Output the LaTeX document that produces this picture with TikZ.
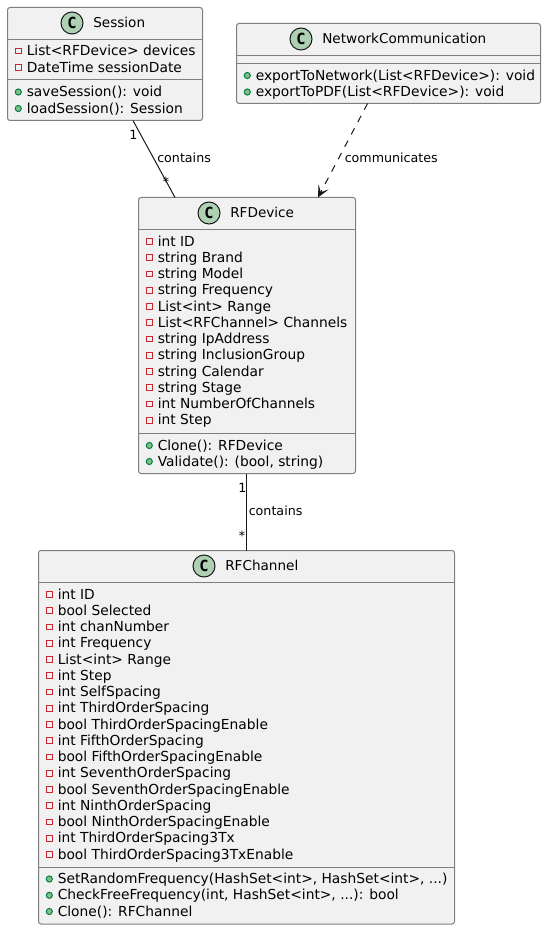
\documentclass[tikz,border=0pt]{standalone}
\usepackage{fontspec}
\setmainfont{DejaVu Sans}
\newfontfamily\spotfont{DejaVu Sans Mono}
\usetikzlibrary{arrows.meta}
\definecolor{boxfill}{HTML}{F1F1F1}
\definecolor{boxline}{HTML}{7F7F7F}
\definecolor{ink}{HTML}{181818}
\definecolor{spotfill}{HTML}{ADD1B2}
\definecolor{privred}{HTML}{C82930}
\definecolor{pubfill}{HTML}{84BE84}
\definecolor{publine}{HTML}{038048}
\tikzset{
  x=0.75pt,y=-0.75pt,
  classbox/.style={draw=boxline,fill=boxfill,line width=0.75pt,rounded corners=1.9pt,anchor=north west,inner sep=0pt,outer sep=0pt},
  divider/.style={draw=boxline,line width=0.75pt},
  spot/.style={circle,draw=ink,fill=spotfill,line width=0.75pt,minimum size=16.5pt,inner sep=0pt,font=\fontsize{11.5}{11.5}\spotfont\bfseries},
  titletext/.style={anchor=west,inner sep=0pt,text=black,text height=7.8pt,text depth=1pt,font=\fontsize{10.2}{12}\selectfont},
  membertext/.style={anchor=west,inner sep=0pt,text=black,text height=7.8pt,text depth=1pt,font=\fontsize{10.35}{12}\selectfont},
  privmark/.style={rectangle,draw=privred,line width=0.75pt,minimum size=4.4pt,inner sep=0pt},
  pubmark/.style={circle,draw=publine,fill=pubfill,line width=0.75pt,minimum size=4.6pt,inner sep=0pt},
  link/.style={draw=ink,line width=0.75pt},
  edgetext/.style={inner sep=0pt,text=black,text height=7.4pt,text depth=1pt,font=\fontsize{9.5}{11}\selectfont},
}
\newcommand{\classbox}[7]{% name x0 y0 w h title-x title
  \node[classbox,minimum width=#4*0.75pt,minimum height=#5*0.75pt] (#1) at (#2,#3) {};
  \draw[divider] ([yshift=-24pt]#1.north west) -- ([yshift=-24pt]#1.north east);
  \node[spot] (#1spot) at (#6,#3+15.5) {C};
  \node[titletext] (#1title) at (#6+21,#3+15.5) {#7};
}
\newcommand{\priv}[3]{% x y text
  \node[privmark] at (#1+10.8,#2) {};
  \node[membertext] at (#1+19,#2) {#3};
}
\newcommand{\pub}[3]{%
  \node[pubmark] at (#1+10.8,#2) {};
  \node[membertext] at (#1+19,#2) {#3};
}
\begin{document}
\begin{tikzpicture}
\useasboundingbox (0,0) rectangle (546,930);
% Session
\classbox{session}{7.5}{7.5}{195}{113}{72}{Session}
\draw[divider] (session.west |- 0,79.5) -- (session.east |- 0,79.5);
\priv{7.5}{51}{List<RFDevice> devices}
\priv{7.5}{67.5}{DateTime sessionDate}
\pub{7.5}{92}{saveSession(): void}
\pub{7.5}{108.5}{loadSession(): Session}
% NetworkCommunication
\classbox{net}{236.5}{23.5}{304}{80}{301}{NetworkCommunication}
\draw[divider] (net.west |- 0,63.5) -- (net.east |- 0,63.5);
\pub{236.5}{75.5}{exportToNetwork(List<RFDevice>): void}
\pub{236.5}{92}{exportToPDF(List<RFDevice>): void}
% RFDevice
\classbox{dev}{138.5}{197.5}{217}{276}{209}{RFDevice}
\draw[divider] (dev.west |- 0,433.5) -- (dev.east |- 0,433.5);
\priv{138.5}{241.5}{int ID}
\priv{138.5}{257.8}{string Brand}
\priv{138.5}{274}{string Model}
\priv{138.5}{290.3}{string Frequency}
\priv{138.5}{306.5}{List<int> Range}
\priv{138.5}{322.8}{List<RFChannel> Channels}
\priv{138.5}{339}{string IpAddress}
\priv{138.5}{355.3}{string InclusionGroup}
\priv{138.5}{371.5}{string Calendar}
\priv{138.5}{387.8}{string Stage}
\priv{138.5}{404}{int NumberOfChannels}
\priv{138.5}{420.3}{int Step}
\pub{138.5}{445.5}{Clone(): RFDevice}
\pub{138.5}{461.5}{Validate(): (bool, string)}
% RFChannel
\classbox{chan}{38.5}{550.5}{416}{373.5}{204}{RFChannel}
\draw[divider] (chan.west |- 0,867.5) -- (chan.east |- 0,867.5);
\priv{38.5}{594.5}{int ID}
\priv{38.5}{610.8}{bool Selected}
\priv{38.5}{627}{int chanNumber}
\priv{38.5}{643.3}{int Frequency}
\priv{38.5}{659.5}{List<int> Range}
\priv{38.5}{675.8}{int Step}
\priv{38.5}{692}{int SelfSpacing}
\priv{38.5}{708.3}{int ThirdOrderSpacing}
\priv{38.5}{724.5}{bool ThirdOrderSpacingEnable}
\priv{38.5}{740.8}{int FifthOrderSpacing}
\priv{38.5}{757}{bool FifthOrderSpacingEnable}
\priv{38.5}{773.3}{int SeventhOrderSpacing}
\priv{38.5}{789.5}{bool SeventhOrderSpacingEnable}
\priv{38.5}{805.8}{int NinthOrderSpacing}
\priv{38.5}{822}{bool NinthOrderSpacingEnable}
\priv{38.5}{838.3}{int ThirdOrderSpacing3Tx}
\priv{38.5}{854.5}{bool ThirdOrderSpacing3TxEnable}
\pub{38.5}{879}{SetRandomFrequency(HashSet<int>, HashSet<int>, ...)}
\pub{38.5}{895.3}{CheckFreeFrequency(int, HashSet<int>, ...): bool}
\pub{38.5}{911.5}{Clone(): RFChannel}
% connectors
\draw[link] ([xshift=94.1pt]session.south west) -- ([xshift=27.4pt]dev.north west);
\draw[link,dashed,dash pattern=on 5.25pt off 5.25pt,-{Stealth[length=9pt,width=8.5pt,inset=4.5pt]}] ([xshift=98.3pt]net.south west) -- ([xshift=134.6pt]dev.north west);
\draw[link] ([xshift=81pt]dev.south west) -- ([xshift=156pt]chan.north west);
% labels
\node[edgetext,anchor=west] (l1) at (157,158.5) {contains};
\node[edgetext] (m1) at (133.5,135.5) {1};
\node[edgetext] (m2) at (166,182.5) {*};
\node[edgetext,anchor=west] (l2) at (344.5,158.5) {communicates};
\node[edgetext,anchor=west] (l3) at (248.5,511.5) {contains};
\node[edgetext] (m3) at (242.5,488.5) {1};
\node[edgetext] (m4) at (242,536.5) {*};
\end{tikzpicture}
\end{document}
